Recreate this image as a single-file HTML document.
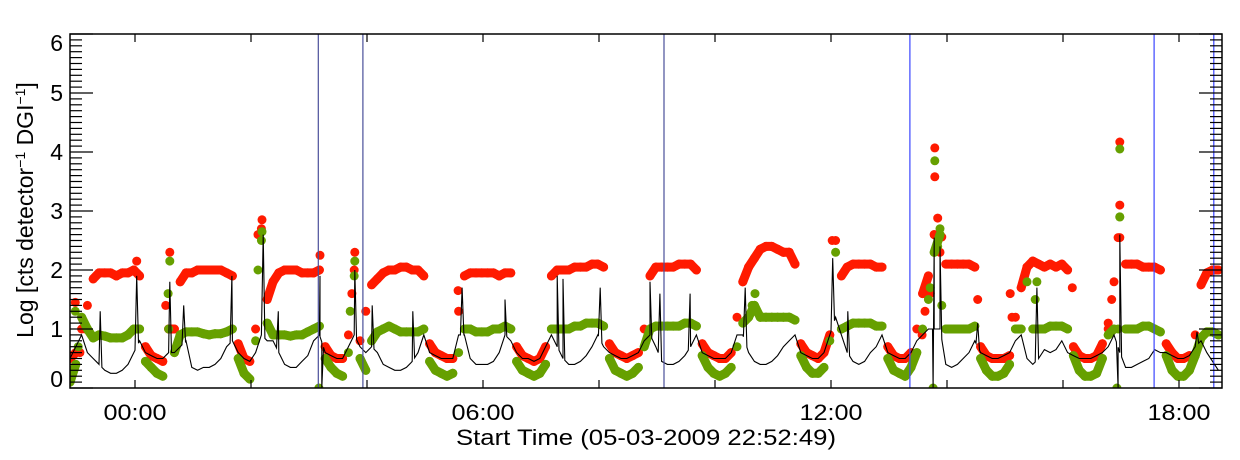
<!DOCTYPE html>
<html><head><meta charset="utf-8"><style>
html,body{margin:0;padding:0;background:#fff;}
svg{display:block;font-family:"Liberation Sans",sans-serif;}
</style></head><body>
<svg id="chart" width="1240" height="460" viewBox="0 0 1240 460" xmlns="http://www.w3.org/2000/svg">
<rect x="0" y="0" width="1240" height="460" fill="#fff"/>
<g id="marks"></g>
<g id="axes"></g>
<text x="646" y="445" font-size="22" text-anchor="middle" textLength="380" lengthAdjust="spacingAndGlyphs">Start Time (05-03-2009 22:52:49)</text>
<text transform="translate(33,210) rotate(-90)" font-size="23" text-anchor="middle">Log [cts detector<tspan dy="-8" font-size="14">−1</tspan><tspan dy="8"> DGI</tspan><tspan dy="-8" font-size="14">−1</tspan><tspan dy="8">]</tspan></text>
</svg>
<script>
// ---- data (time in hours relative to 00:00, sample step 0.1 h) ----
const sampleStart = -1.12;
const sampleStep = 0.1;
const redValues = [
0.5,0.6,1.0,1.4,1.85,1.95,1.95,1.95,1.9,1.95,
1.95,2.0,1.9,0.7,0.55,0.5,0.45,1.0,1.0,1.8,
1.95,1.95,2.0,2.0,2.0,2.0,2.0,1.95,1.9,0.75,
0.5,0.45,1.0,2.7,1.5,1.8,1.95,2.0,2.0,2.0,
1.95,1.95,1.95,2.0,0.7,0.55,0.5,0.5,0.9,2.0,
0.8,1.3,1.75,1.85,1.95,2.0,2.0,2.05,2.05,2.0,
2.0,1.9,0.75,0.6,0.55,0.5,0.5,1.3,1.9,1.95,
1.95,1.95,1.95,1.95,1.9,1.95,1.95,0.7,0.55,0.5,
0.45,0.5,0.7,1.9,2.0,2.0,2.0,2.05,2.05,2.05,
2.1,2.1,2.05,0.75,0.6,0.55,0.5,0.55,0.6,1.0,
1.9,2.05,2.05,2.05,2.05,2.1,2.1,2.1,2.0,0.75,
0.6,0.55,0.5,0.5,0.6,1.2,1.8,2.05,2.2,2.35,
2.4,2.4,2.35,2.3,2.3,2.1,0.75,0.6,0.55,0.5,
0.6,0.9,2.5,1.9,2.05,2.1,2.1,2.1,2.1,2.05,
2.05,0.7,0.55,0.5,0.5,0.6,1.0,1.6,1.9,2.6,
2.55,2.1,2.1,2.1,2.1,2.1,2.05,0.7,0.55,0.5,
0.5,0.5,0.55,1.2,1.7,2.05,2.15,2.1,2.05,2.1,
2.05,2.1,2.0,0.7,0.55,0.5,0.5,0.55,0.75,1.1,
1.8,2.55,2.1,2.1,2.1,2.05,2.05,2.05,2.0,0.75,
0.6,0.5,0.5,0.55,0.9,1.75,1.95,2.0,2.0];
const greenValues = [
0.1,0.4,1.2,1.0,0.85,0.9,0.88,0.85,0.85,0.85,
0.9,1.0,1.0,0.45,0.35,0.25,0.2,1.0,0.6,0.9,
0.95,0.95,0.95,0.92,0.9,0.92,0.92,0.95,1.0,0.5,
0.25,0.15,0.8,2.5,1.1,0.9,0.9,0.9,0.88,0.9,
0.9,0.95,1.0,1.05,0.5,0.35,0.25,0.2,0.6,1.9,
0.5,0.3,0.8,0.95,1.0,1.05,1.0,0.95,0.95,0.95,
0.95,1.0,0.45,0.3,0.25,0.2,0.25,0.6,1.0,1.0,
0.95,0.95,0.95,1.0,1.0,1.05,1.0,0.45,0.3,0.25,
0.2,0.25,0.4,1.0,1.0,1.0,1.0,1.05,1.05,1.1,
1.1,1.1,1.05,0.5,0.3,0.25,0.2,0.25,0.35,0.7,
1.0,1.05,1.05,1.05,1.05,1.05,1.1,1.1,1.05,0.55,
0.35,0.25,0.2,0.25,0.35,0.7,1.1,1.2,1.4,1.2,
1.2,1.2,1.2,1.2,1.2,1.15,0.55,0.35,0.25,0.25,
0.35,0.8,2.3,1.0,1.05,1.1,1.1,1.1,1.1,1.05,
1.05,0.5,0.3,0.25,0.2,0.35,0.6,1.0,1.5,2.3,
2.6,1.0,1.0,1.0,1.0,1.0,1.05,0.5,0.3,0.2,
0.2,0.25,0.4,1.0,1.0,1.8,1.0,1.0,1.0,1.05,
1.05,1.05,1.0,0.55,0.3,0.2,0.2,0.25,0.5,0.9,
1.0,2.9,1.0,1.0,1.0,1.05,1.05,1.0,0.95,0.55,
0.3,0.2,0.2,0.3,0.55,0.85,0.95,0.95,0.9];
const blackValues = [
0.5,0.7,0.9,0.6,0.5,0.4,0.3,0.25,0.25,0.3,
0.4,0.6,0.8,0.6,0.55,0.5,0.5,0.6,0.6,0.7,
0.8,0.35,0.3,0.35,0.35,0.4,0.5,0.7,0.8,0.6,
0.5,0.45,0.6,0.9,0.8,0.8,0.6,0.4,0.35,0.35,
0.45,0.55,0.8,0.9,0.6,0.55,0.5,0.5,0.7,0.9,
0.7,0.6,0.7,0.6,0.4,0.35,0.3,0.3,0.35,0.45,
0.6,0.9,0.6,0.55,0.5,0.5,0.5,0.9,0.9,0.5,
0.4,0.4,0.4,0.45,0.6,0.9,0.8,0.6,0.5,0.5,
0.45,0.5,0.7,0.9,0.7,0.5,0.4,0.4,0.45,0.55,
0.7,0.9,0.7,0.6,0.55,0.5,0.5,0.55,0.6,0.8,
0.9,0.7,0.45,0.4,0.4,0.45,0.55,0.7,0.9,0.6,
0.55,0.5,0.5,0.5,0.6,0.9,0.9,0.6,0.45,0.4,
0.4,0.45,0.55,0.7,0.8,0.9,0.6,0.55,0.5,0.5,
0.6,0.9,1.2,0.9,0.6,0.45,0.4,0.45,0.6,0.7,
0.9,0.6,0.55,0.5,0.5,0.6,0.8,0.9,1.0,1.0,
1.0,0.4,0.35,0.4,0.5,0.6,0.8,0.6,0.55,0.5,
0.5,0.55,0.6,0.8,0.9,0.5,0.4,0.5,0.65,0.6,
0.65,0.8,0.6,0.55,0.5,0.5,0.5,0.55,0.6,0.7,
0.9,0.6,0.35,0.35,0.4,0.45,0.5,0.65,0.6,0.6,
0.55,0.5,0.5,0.55,0.7,0.8,0.6,0.45,0.3];
const blackSpikeTimes = [-0.60,0.03,0.60,0.84,1.67,2.21,2.47,3.19,3.22,3.79,4.09,4.79,5.64,6.38,7.28,7.38,8.02,8.88,9.05,9.57,10.52,12.03,12.29,13.76,13.78,13.88,14.53,15.55,16.95,16.98,18.31];
const blackSpikeValues = [1.3,1.9,1.8,1.4,1.9,2.6,1.3,1.9,0.0,2.0,1.4,1.3,1.7,1.5,1.9,1.85,1.7,1.8,1.6,1.6,1.7,2.2,1.3,0.0,2.55,2.4,1.1,1.7,0.0,2.6,0.95];
const redExtraTimes = [-1.03,-0.95,-0.86,0.03,0.53,0.60,2.12,2.19,3.19,3.74,3.79,5.57,12.02,13.57,13.62,13.71,13.79,13.79,13.84,13.88,13.91,14.53,15.09,15.12,16.16,16.78,16.84,16.95,16.98,16.98];
const redExtraValues = [1.45,0.6,1.0,2.15,1.4,2.3,2.6,2.85,2.25,1.6,2.3,1.65,2.5,0.9,1.3,1.6,4.07,3.58,2.88,2.3,2.56,1.5,1.6,1.2,1.7,1.0,1.5,2.55,4.17,3.1];
const greenExtraTimes = [-1.03,-0.98,0.57,0.60,2.12,2.19,3.17,3.71,3.79,10.64,10.69,13.71,13.76,13.79,13.84,13.88,13.91,15.52,15.55,16.93,16.95,16.98,16.98];
const greenExtraValues = [1.3,0.7,1.6,2.15,2.0,2.65,0.0,1.3,2.15,1.4,1.6,1.7,0.0,3.85,2.4,2.7,1.4,1.5,1.8,0.0,1.0,4.05,2.9];
const markerTimes = [3.16,3.93,9.12,13.36,17.57,18.60];
const markerColors = ['#4a4f9a','#4a4f9a','#4a4f9a','#3a44ff','#3a44ff','#3a44ff'];
const yTickLabels = ['0','1','2','3','4','5','6'];
const xTickLabels = ['00:00','06:00','12:00','18:00'];
const xTickHours = [0,6,12,18];

// ---- axes ----
const PL=70, PR=1222, PT=34, PB=388;
function X(t){return 135+58*t;}
function Y(v){return PB-(PB-PT)*v/6;}
const NS='http://www.w3.org/2000/svg';
const marks=document.getElementById('marks');
const axes=document.getElementById('axes');
function mk(tag,attrs,parent){const e=document.createElementNS(NS,tag);for(const k in attrs)e.setAttribute(k,attrs[k]);parent.appendChild(e);return e;}

const defs=mk('defs',{},marks);
const cp=mk('clipPath',{id:'clip'},defs);
mk('rect',{x:PL,y:PT,width:PR-PL,height:PB-PT},cp);
const plot=mk('g',{'clip-path':'url(#clip)'},marks);

function drawSeries(values,extraT,extraV,color,name){
  const g=mk('g',{fill:color},plot);
  
  
  for(let i=0;i<values.length-1;i++){
    if(Math.abs(values[i+1]-values[i])<0.35){
      const l=mk('line',{x1:X(sampleStart+i*sampleStep).toFixed(1),y1:Y(values[i]).toFixed(1),x2:X(sampleStart+(i+1)*sampleStep).toFixed(1),y2:Y(values[i+1]).toFixed(1),stroke:color,'stroke-width':9,'stroke-linecap':'round'},g);
      
      
    }
  }
  values.forEach((v,i)=>{const c=mk('circle',{cx:X(sampleStart+i*sampleStep).toFixed(1),cy:Y(v).toFixed(1),r:4.5},g);
  
  });
  extraT.forEach((t,i)=>{const c=mk('circle',{cx:X(t).toFixed(1),cy:Y(extraV[i]).toFixed(1),r:4.5},g);
  
  });
}
drawSeries(redValues,redExtraTimes,redExtraValues,'#ff1a00','red-series');
drawSeries(greenValues,greenExtraTimes,greenExtraValues,'#66a000','green-series');

function baseAt(t){const f=(t-sampleStart)/sampleStep;let i=Math.floor(f);if(i<0)return blackValues[0];if(i>=blackValues.length-1)return blackValues[blackValues.length-1];const a=f-i;return blackValues[i]*(1-a)+blackValues[i+1]*a;}
let pts=blackValues.map((v,i)=>[sampleStart+i*sampleStep,v]);
blackSpikeTimes.forEach((t,i)=>{pts.push([t-0.03,baseAt(t-0.03)]);pts.push([t,blackSpikeValues[i]]);pts.push([t+0.03,baseAt(t+0.03)]);});
pts.sort((a,b)=>a[0]-b[0]);
const line=mk('polyline',{points:pts.map(p=>X(p[0]).toFixed(1)+','+Y(p[1]).toFixed(1)).join(' '),fill:'none',stroke:'#000','stroke-width':1.1},plot);



markerTimes.forEach((t,i)=>{const l=mk('line',{x1:X(t).toFixed(1),x2:X(t).toFixed(1),y1:PT,y2:PB,stroke:markerColors[i],'stroke-width':1.2},plot);

});

const fr=mk('rect',{x:PL,y:PT,width:PR-PL,height:PB-PT,fill:'none',stroke:'#000','stroke-width':1.5},axes);



for(let k=0;k<=60;k++){const v=k/10;const y=Y(v);const len=(k%10===0)?23:12;
mk('line',{x1:PL,x2:PL+len,y1:y,y2:y,stroke:'#000','stroke-width':1.2},axes);
mk('line',{x1:PR,x2:PR-len,y1:y,y2:y,stroke:'#000','stroke-width':1.2},axes);}
yTickLabels.forEach((s,i)=>{let y=Y(i)+8;if(i===6)y=Y(6)+17;if(i===0)y=Y(0)-1;
const t=mk('text',{x:63,y:y,'font-size':23,'text-anchor':'end'},axes);t.textContent=s;

});

for(let h=0;h<=18;h+=2){const x=X(h);
mk('line',{x1:x,x2:x,y1:PB,y2:PB-8,stroke:'#000','stroke-width':1.2},axes);
mk('line',{x1:x,x2:x,y1:PT,y2:PT+8,stroke:'#000','stroke-width':1.2},axes);}
xTickLabels.forEach((s,i)=>{const t=mk('text',{x:X(xTickHours[i]),y:420,'font-size':22,'text-anchor':'middle',textLength:63,lengthAdjust:'spacingAndGlyphs'},axes);t.textContent=s;

});
</script>
</body></html>
